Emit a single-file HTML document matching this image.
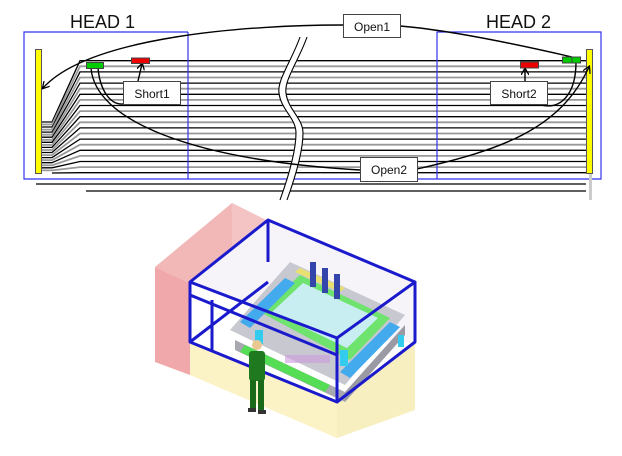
<!DOCTYPE html>
<html><head><meta charset="utf-8"><style>
html,body{margin:0;padding:0;background:#fff;}
svg{display:block;}
text{font-family:"Liberation Sans",sans-serif;}
</style></head><body>
<svg width="622" height="456" viewBox="0 0 622 456" xmlns="http://www.w3.org/2000/svg">
<defs>
<marker id="ah" markerWidth="8" markerHeight="8" refX="6" refY="4" orient="auto" markerUnits="userSpaceOnUse">
<path d="M0,0 L7,4 L0,8" fill="none" stroke="#000" stroke-width="1.3"/>
</marker>
</defs>
<g fill="none">
<g stroke="#000" stroke-width="1.3">
<path d="M42,122 L52,122 L80,60.7 L586,60.7"/>
<path d="M42,127 L52,127 L80,71.9 L586,71.9"/>
<path d="M42,132.1 L52,132.1 L80,83.1 L586,83.1"/>
<path d="M42,137.2 L52,137.2 L80,94.3 L586,94.3"/>
<path d="M42,142.3 L52,142.3 L80,105.5 L586,105.5"/>
<path d="M42,147.4 L52,147.4 L80,116.7 L586,116.7"/>
<path d="M42,152.5 L52,152.5 L80,127.9 L586,127.9"/>
<path d="M42,157.6 L52,157.6 L80,139.1 L586,139.1"/>
<path d="M42,162.7 L52,162.7 L80,150.3 L586,150.3"/>
<path d="M42,167.8 L52,167.8 L80,161.5 L586,161.5"/>
<path d="M52,173 L80,172.7 L586,172.7"/>
<path d="M36,184 L586,184"/>
<path d="M86,191 L586,191"/>
</g>
<g stroke="#999" stroke-width="1.8">
<path d="M42,124.5 L52,124.5 L80,66.3 L586,66.3"/>
<path d="M42,129.6 L52,129.6 L80,77.5 L586,77.5"/>
<path d="M42,134.7 L52,134.7 L80,88.7 L586,88.7"/>
<path d="M42,139.8 L52,139.8 L80,99.9 L586,99.9"/>
<path d="M42,144.9 L52,144.9 L80,111.1 L586,111.1"/>
<path d="M42,150 L52,150 L80,122.3 L586,122.3"/>
<path d="M42,155.1 L52,155.1 L80,133.5 L586,133.5"/>
<path d="M42,160.2 L52,160.2 L80,144.7 L586,144.7"/>
<path d="M42,165.3 L52,165.3 L80,155.9 L586,155.9"/>
<path d="M42,170.4 L52,170.4 L80,167.1 L586,167.1"/>
</g>
</g>
<!-- blue frame -->
<g fill="none" stroke="#3333ee" stroke-width="1.2">
<path d="M188,32 L24,32 L24,179 L601,179 L601,32 L437,32 L437,179"/>
<path d="M188,32 L188,179"/>
</g>
<rect x="589" y="173" width="3" height="27" fill="#ccc"/>
<rect x="35.5" y="49.5" width="6" height="124" fill="#ffff00" stroke="#555" stroke-width="1"/>
<rect x="586.5" y="49.5" width="6" height="124" fill="#ffff00" stroke="#555" stroke-width="1"/>
<!-- break -->
<g fill="none">
<path d="M303.5,37 C296,60 281,80 282.5,93 C284,110 300,118 299.5,133 C299,150 292,175 283.5,200" stroke="#fff" stroke-width="7"/>
<path d="M300,37 C292,60 277,80 279,93 C281,110 296,118 296,133 C296,150 289,175 280,200" stroke="#000" stroke-width="1.1"/>
<path d="M307,37 C299,60 284,80 286,93 C288,110 303,118 303,133 C303,150 296,175 287,200" stroke="#000" stroke-width="1.1"/>
</g>
<!-- loop curves -->
<g fill="none" stroke="#000" stroke-width="1.4">
<path d="M572,57 C520,45 450,30 400,26"/>
<path d="M343,25 C250,25 90,36 43,88" marker-end="url(#ah)"/>
<path d="M91,68 C95,120 190,160 360,170"/>
<path d="M417,169 C500,150 560,130 589,67" marker-end="url(#ah)"/>
<path d="M98,68 C100,90 110,105 123,104"/>
<path d="M138,81 L142,64" marker-end="url(#ah)"/>
<path d="M525,81 L525,69" marker-end="url(#ah)"/>
<path d="M576,62 C576,95 560,110 541,105"/>
</g>
<rect x="86.5" y="62.5" width="17" height="6" fill="#00cc00" stroke="#444" stroke-width="1"/>
<rect x="131.5" y="58" width="18" height="5.5" fill="#ee0000" stroke="#444" stroke-width="1"/>
<rect x="520.5" y="62" width="18" height="6" fill="#ee0000" stroke="#444" stroke-width="1"/>
<rect x="562.5" y="57" width="18" height="6" fill="#00cc00" stroke="#444" stroke-width="1"/>
<line x1="572" y1="57" x2="572" y2="63" stroke="#444"/>
<g fill="#fff" stroke="#444" stroke-width="1">
<rect x="123.5" y="81.5" width="57" height="23"/>
<rect x="490.5" y="81.5" width="57" height="23"/>
<rect x="343.5" y="14.5" width="57" height="23"/>
<rect x="360.5" y="157.5" width="57" height="24"/>
</g>
<g font-size="12" fill="#111" text-anchor="middle">
<text x="152" y="98">Short1</text>
<text x="519" y="98">Short2</text>
<text x="372" y="31">Open1</text>
<text x="389" y="174">Open2</text>
</g>
<text x="70" y="28" font-size="18" fill="#111">HEAD 1</text>
<text x="486" y="28" font-size="18" fill="#111">HEAD 2</text>

<!-- 3D picture -->
<g>
<polygon points="155,267 232,203 270,222 190,283" fill="#f2b8b8"/>
<polygon points="155,267 190,283 190,375 155,362" fill="#f0a8aa"/>
<polygon points="232,203 270,222 270,282 232,282" fill="#f4c4c4"/>
<polygon points="190,343 337,402 337,438 190,375" fill="#fbf3c6"/>
<polygon points="337,402 415,343 415,410 337,438" fill="#f7efc0"/>
<polygon points="268,220 415,282 415,343 337,338 190,282" fill="#f6f4f8"/>
<polygon points="230,330 290,262 405,315 345,385" fill="#c8c8d0"/>
<polygon points="235,340 345,392 345,402 235,350" fill="#a8a8b0"/>
<polygon points="345,392 405,325 405,335 345,402" fill="#9a9aa4"/>
<polygon points="260,312 300,275 390,318 350,360" fill="#6ee36e"/>
<polygon points="272,312 303,283 378,318 347,348" fill="#c8eef2"/>
<polygon points="240,322 285,278 295,283 250,328" fill="#44aaee"/>
<polygon points="340,372 390,322 400,327 350,378" fill="#44aaee"/>
<polygon points="300,268 345,288 340,292 295,272" fill="#e8e070"/>
<polygon points="245,345 330,385 325,392 240,352" fill="#55dd55"/>
<rect x="310" y="262" width="6" height="25" fill="#3344aa"/>
<rect x="322" y="268" width="6" height="25" fill="#3344aa"/>
<rect x="334" y="274" width="6" height="25" fill="#3344aa"/>
<rect x="255" y="330" width="8" height="14" fill="#33ccee"/>
<rect x="340" y="350" width="8" height="16" fill="#33ccee"/>
<rect x="398" y="335" width="6" height="12" fill="#33ccee"/>
<rect x="285" y="355" width="45" height="8" fill="#cc99dd" opacity="0.6"/>
<g fill="none" stroke="#1a1acc" stroke-width="3" stroke-linejoin="round">
<polygon points="190,282 268,220 415,282 337,338"/>
<path d="M190,282 L190,342 L337,402 L415,342 L415,282"/>
<path d="M337,338 L337,402"/>
<path d="M268,220 L268,262"/>
<path d="M190,295 L337,355"/>
<path d="M212,300 L212,352"/>
<path d="M190,342 L268,282"/>
</g>
<circle cx="257" cy="345" r="5" fill="#e8c890"/>
<rect x="249" y="351" width="16" height="30" rx="3" fill="#1f7a1f"/>
<rect x="250" y="380" width="6" height="30" fill="#1a6a1a"/>
<rect x="258" y="380" width="6" height="30" fill="#1a6a1a"/>
<rect x="248" y="408" width="8" height="4" fill="#333"/>
<rect x="258" y="410" width="8" height="4" fill="#333"/>
</g>
</svg>
</body></html>
